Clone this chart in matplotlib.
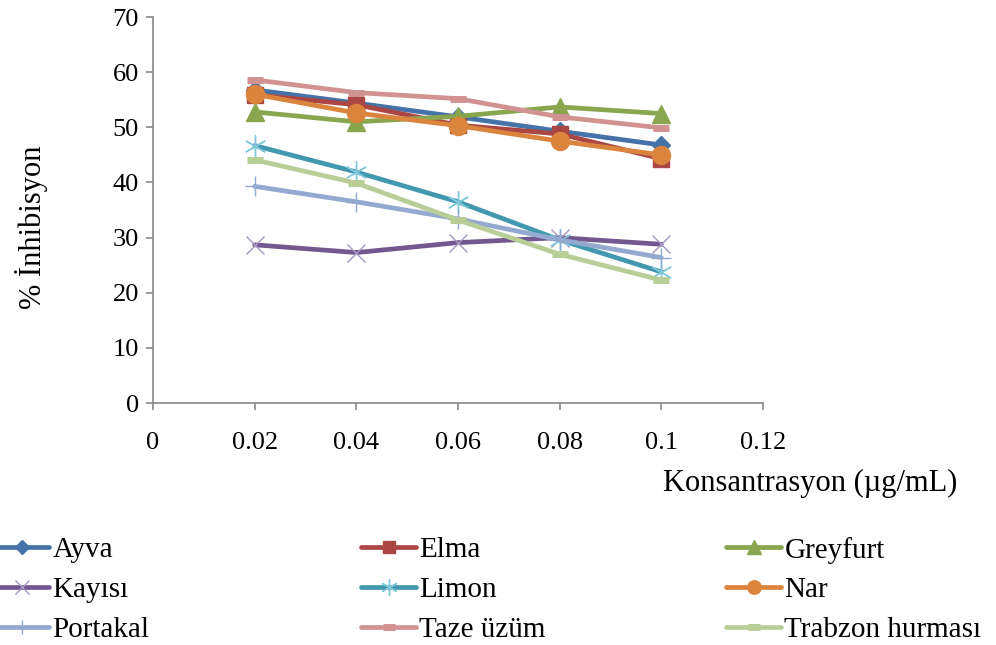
import numpy as np
import matplotlib.pyplot as plt

plt.rcParams['font.family'] = ['Liberation Serif', 'DejaVu Serif']

konsantrasyon = [0.02, 0.04, 0.06, 0.08, 0.1]

ayva = [56.8, 54.4, 51.9, 49.3, 46.8]
elma = [55.9, 54.1, 50.4, 48.8, 44.3]
greyfurt = [52.8, 51.0, 52.0, 53.7, 52.5]
kayisi = [28.7, 27.3, 29.1, 30.0, 28.8]
limon = [46.7, 41.9, 36.5, 29.6, 23.8]
nar = [56.0, 52.6, 50.3, 47.5, 45.0]
portakal = [39.3, 36.5, 33.4, 29.6, 26.4]
taze_uzum = [58.6, 56.3, 55.2, 51.9, 49.9]
trabzon = [44.1, 39.9, 33.2, 27.0, 22.3]

series = [
    ('Ayva', ayva, '#4572A7', 'D', '#4572A7', 9),
    ('Elma', elma, '#AA4643', 's', '#AA4643', 12),
    ('Greyfurt', greyfurt, '#89A54E', '^', '#89A54E', 13),
    ('Kayısı', kayisi, '#71588F', 'x', '#A597C0', 13),
    ('Limon', limon, '#4198AF', (6, 2, 0), '#80C8DA', 16),
    ('Nar', nar, '#DB843D', 'o', '#DB843D', 13),
    ('Portakal', portakal, '#93A9CF', '+', '#93A9CF', 14),
    ('Taze üzüm', taze_uzum, '#D19392', '_', '#D19392', 11),
    ('Trabzon hurması', trabzon, '#B9CD96', '_', '#B9CD96', 11),
]

fig = plt.figure(figsize=(9.96, 6.45), dpi=100)
ax = fig.add_axes([0.1536, 0.375, 0.6124, 0.5986])

handles = {}
for name, vals, col, mk, mcol, ms in series:
    if mk == '_':
        mew = 5
    else:
        mew = 1.0
    ln, = ax.plot(konsantrasyon, vals, color=col, lw=3.4, marker=mk,
                  markersize=ms, markerfacecolor=mcol, markeredgecolor=mcol,
                  markeredgewidth=mew, solid_capstyle='round', label=name)
    handles[name] = ln

ax.set_xlim(0, 0.12)
ax.set_ylim(0, 70)
ax.set_xticks([0, 0.02, 0.04, 0.06, 0.08, 0.1, 0.12])
ax.set_xticklabels(['0', '0.02', '0.04', '0.06', '0.08', '0.1', '0.12'])
ax.set_yticks(np.arange(0, 71, 10))

for s in ['top', 'right']:
    ax.spines[s].set_visible(False)
for s in ['left', 'bottom']:
    ax.spines[s].set_color('#888888')
    ax.spines[s].set_linewidth(1.2)
ax.tick_params(axis='both', direction='out', length=5, width=1.2,
               color='#888888', labelsize=19)
ax.tick_params(axis='x', pad=16)
ax.tick_params(axis='y', pad=5)

fig.text(0.032, 0.647, '% İnhibisyon', rotation=90, fontsize=22,
         ha='center', va='center')
fig.text(0.813, 0.25, 'Konsantrasyon (µg/mL)', fontsize=22,
         ha='center', va='center')

# legend laid out as three separate columns, row by row
columns = [['Ayva', 'Kayısı', 'Portakal'],
           ['Elma', 'Limon', 'Taze üzüm'],
           ['Greyfurt', 'Nar', 'Trabzon hurması']]
col_x = [-6 / 996, 361 / 996, 726 / 996]
for names, x in zip(columns, col_x):
    fig.legend([handles[n] for n in names], names, loc='upper left',
               bbox_to_anchor=(x, 0.168), frameon=False, fontsize=21,
               handlelength=1.9, handletextpad=0.1, labelspacing=0.46,
               borderpad=0, borderaxespad=0, markerscale=0.75)

fig.savefig('out.png', dpi=100)
